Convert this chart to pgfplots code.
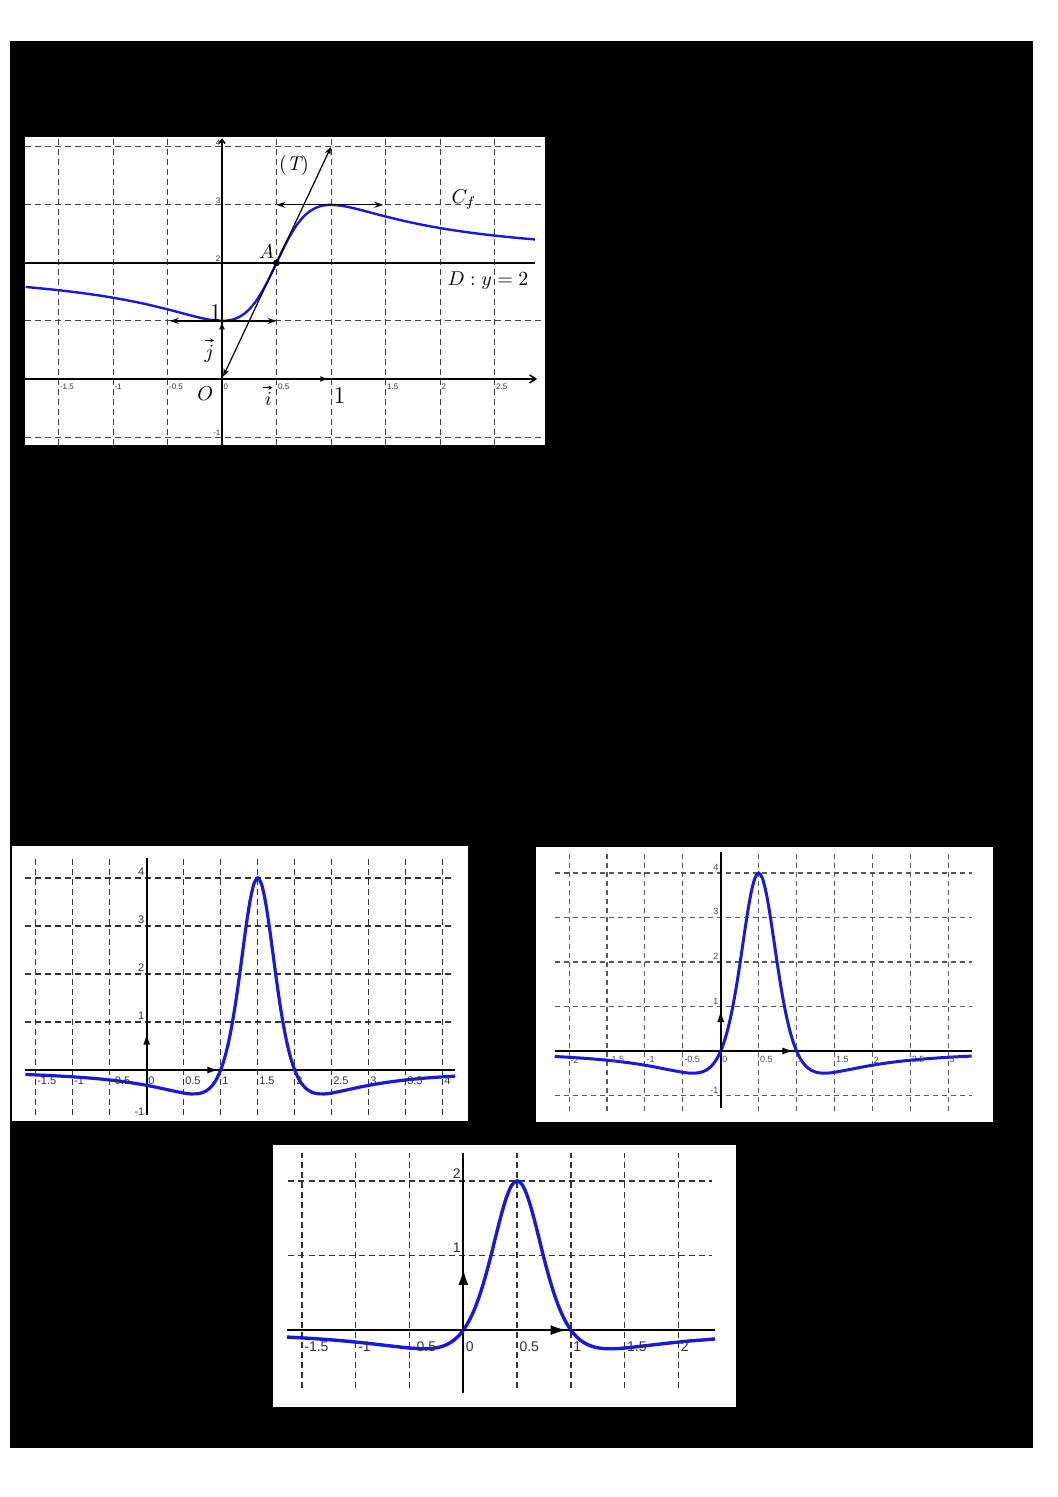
\documentclass[border=0pt]{standalone}
\usepackage{pgfplots}
\pgfplotsset{compat=1.18}
\usepackage{fontspec}
\setsansfont{Liberation Sans}
\usetikzlibrary{arrows.meta}
\definecolor{cblue}{RGB}{25,25,215}
\tikzset{
  grd/.style={black!75, line width=0.45pt, dash pattern=on 3pt off 2pt},
  grdb/.style={black!80, line width=0.7pt, dash pattern=on 3pt off 2pt},
  grdc/.style={black!65, line width=0.55pt, dash pattern=on 2.5pt off 2pt},
  ax/.style={black, line width=0.8pt},
  tk/.style={font=\sffamily\fontsize{4}{4.5}\selectfont, inner sep=0.6pt, text=black!80},
  lb/.style={font=\fontsize{10}{12}\selectfont, inner sep=0pt},
  vecarr/.style={line width=0.4pt, -{Stealth[length=2pt,width=2pt]}},
}
\pgfplotsset{panel/.style={anchor=south west, scale only axis, hide axis, clip=false}}

\begin{document}
\begin{tikzpicture}
\fill[white] (0pt,0pt) rectangle (529pt,748.5pt);
\fill[black] (5pt,24.65pt) rectangle (516.35pt,728.15pt);

%% ---------------- Plot 1 ----------------
\begin{axis}[panel, at={(12.5pt,526pt)}, width=260pt, height=154pt,
  xmin=-1.807, xmax=2.963, ymin=-1.138, ymax=4.17]
\fill[white] (rel axis cs:0,0) rectangle (rel axis cs:1,1);
\pgfplotsinvokeforeach{-1.5,-1,-0.5,0.5,1,1.5,2,2.5}{\draw[grd] (axis cs:#1,-1.138) -- (axis cs:#1,4.17);}
\pgfplotsinvokeforeach{4,3,1,-1}{\draw[grd] (axis cs:-1.807,#1) -- (axis cs:2.93,#1);}
\draw[ax, -{Straight Barb[length=3pt,width=4pt]}] (axis cs:-1.807,0) -- (axis cs:2.89,0);
\draw[ax, -{Straight Barb[length=2pt,width=3pt]}] (axis cs:0,-1.138) -- (axis cs:0,4.15);
\addplot[black, line width=1.1pt] coordinates {(-1.807,2) (2.87,2)};
\addplot[cblue, line width=1.2pt, smooth] coordinates {
(-1.8,1.58484) (-1.7,1.56778) (-1.5,1.52941) (-1.3,1.48424) (-1.1,1.43061)
(-0.9,1.36652) (-0.7,1.28994) (-0.5,1.2) (-0.4,1.15094) (-0.3,1.10112)
(-0.2,1.05405) (-0.1,1.01639) (0,1) (0.05,1.00553) (0.1,1.02439)
(0.15,1.06040) (0.2,1.11765) (0.25,1.2) (0.3,1.31034) (0.35,1.44954)
(0.4,1.61538) (0.45,1.80198) (0.5,2) (0.55,2.19802) (0.6,2.38462)
(0.65,2.55046) (0.7,2.68966) (0.75,2.8) (0.8,2.88235) (0.85,2.93960)
(0.9,2.97561) (0.95,2.99447) (1.0,3) (1.1,2.98361) (1.2,2.94595)
(1.3,2.89888) (1.4,2.84906) (1.5,2.8) (1.7,2.71006) (1.9,2.63348)
(2.1,2.56940) (2.3,2.51576) (2.5,2.47059) (2.7,2.43222) (2.87,2.40396)};
\addplot[black, line width=0.6pt, {Stealth[length=4pt,width=3pt]}-{Stealth[length=4pt,width=3pt]}] coordinates {(0.01,0.04) (1,4)};
\addplot[black, line width=0.6pt, {Stealth[length=4.5pt,width=3pt]}-{Stealth[length=4.5pt,width=3pt]}] coordinates {(0.5,3) (1.48,3)};
\addplot[black, line width=0.6pt, {Stealth[length=4.5pt,width=3pt]}-{Stealth[length=4.5pt,width=3pt]}] coordinates {(-0.48,1) (0.5,1)};
\addplot[only marks, mark=*, mark size=1.5pt, black] coordinates {(0.5,2)};
\draw[ax, -{Latex[length=4pt,width=3pt]}] (axis cs:0,0) -- (axis cs:0,0.99);
\draw[ax, -{Latex[length=4pt,width=3pt]}] (axis cs:0,0) -- (axis cs:0.975,0);
% labels
\node[lb] at (axis cs:-0.154,-0.25) {$O$};
\node[lb] at (axis cs:0.41,2.19) {$A$};
\node[lb] at (axis cs:0.66,3.67) {$(\mathbf{\mathit{T}})$};
\node[lb] at (axis cs:2.22,3.1) {$C_f$};
\node[lb] at (axis cs:2.44,1.69) {$D : y = 2$};
\node[lb] (jn) at (axis cs:-0.117,0.44) {$j$};
\draw[vecarr] ([xshift=-2pt,yshift=2pt]jn.north) -- ([xshift=2.5pt,yshift=2pt]jn.north);
\node[lb] (in) at (axis cs:0.426,-0.34) {$i$};
\draw[vecarr] ([xshift=-2.5pt,yshift=2pt]in.north) -- ([xshift=2pt,yshift=2pt]in.north);
\node[lb, font=\fontsize{12}{14}\selectfont] at (axis cs:1.077,-0.28) {1};
\node[lb, font=\fontsize{12}{14}\selectfont] at (axis cs:-0.06,1.14) {1};
\pgfplotsinvokeforeach{-1.5,-1,-0.5,0,0.5,1.5,2,2.5}{\node[tk, anchor=west] at (axis cs:#1,-0.13) {#1};}
\pgfplotsinvokeforeach{4,3,2,-1}{\node[tk, anchor=south east] at (axis cs:0,#1) {#1};}
\end{axis}

%% ---------------- Plot 2 ----------------
\begin{axis}[panel, at={(5.85pt,188.15pt)}, width=228pt, height=137.5pt,
  xmin=-1.824, xmax=4.338, ymin=-1.056, ymax=4.673]
\fill[white] (rel axis cs:0,0) rectangle (rel axis cs:1,1);
\pgfplotsinvokeforeach{-1.5,-1,-0.5,0.5,1,1.5,2,2.5,3,3.5,4}{\draw[grdb] (axis cs:#1,-0.94) -- (axis cs:#1,4.44);}
\pgfplotsinvokeforeach{1,2,3,4}{\draw[grdb] (axis cs:-1.64,#1) -- (axis cs:4.14,#1);}
\draw[ax, line width=0.9pt] (axis cs:-1.64,0) -- (axis cs:4.17,0);
\draw[ax, line width=0.9pt] (axis cs:0,-0.94) -- (axis cs:0,4.41);
\addplot[cblue, line width=1.6pt, smooth] coordinates {
(-1.64,-0.09402) (-1.5,-0.10226) (-1.3,-0.11597) (-1.1,-0.13248) (-0.9,-0.15255)
(-0.7,-0.17716) (-0.5,-0.20761) (-0.3,-0.24548) (-0.1,-0.29255) (0.1,-0.35012)
(0.3,-0.41665) (0.5,-0.48) (0.6,-0.49840) (0.7,-0.49236) (0.75,-0.47337)
(0.8,-0.43828) (0.85,-0.38142) (0.9,-0.29562) (0.95,-0.17199) (1.0,0)
(1.05,0.23198) (1.1,0.53540) (1.15,0.91888) (1.2,1.38408) (1.25,1.92)
(1.3,2.49703) (1.35,3.06373) (1.4,3.55030) (1.45,3.88200) (1.5,4)
(1.55,3.88200) (1.6,3.55030) (1.65,3.06373) (1.7,2.49703) (1.75,1.92)
(1.8,1.38408) (1.85,0.91888) (1.9,0.53540) (1.95,0.23198) (2.0,0)
(2.05,-0.17199) (2.1,-0.29562) (2.15,-0.38142) (2.2,-0.43828) (2.25,-0.47337)
(2.3,-0.49236) (2.4,-0.49840) (2.5,-0.48) (2.7,-0.41665) (2.9,-0.35012)
(3.1,-0.29255) (3.3,-0.24548) (3.5,-0.20761) (3.7,-0.17716) (3.9,-0.15255)
(4.17,-0.12634)};
\draw[ax, line width=0.9pt, -{Latex[length=5.5pt,width=3.5pt]}] (axis cs:0,0) -- (axis cs:0,0.76);
\draw[ax, line width=0.9pt, -{Latex[length=5.5pt,width=3.5pt]}] (axis cs:0,0) -- (axis cs:0.97,0);
\pgfplotsinvokeforeach{-1.5,-1,-0.5,0,0.5,1,1.5,2,2.5,3,3.5,4}{\node[tk, font=\sffamily\fontsize{5.5}{6}\selectfont, anchor=west] at (axis cs:#1,-0.22) {#1};}
\pgfplotsinvokeforeach{4,3,2,1,-1}{\node[tk, font=\sffamily\fontsize{5.5}{6}\selectfont, anchor=south east, inner sep=1pt] at (axis cs:0,#1) {#1};}
\end{axis}

%% ---------------- Plot 3 ----------------
\begin{axis}[panel, at={(268pt,187.5pt)}, width=228.5pt, height=137.5pt,
  xmin=-2.437, xmax=3.592, ymin=-1.596, ymax=4.584]
\fill[white] (rel axis cs:0,0) rectangle (rel axis cs:1,1);
\pgfplotsinvokeforeach{-2,-1.5,-1,-0.5,0.5,1,1.5,2,2.5,3}{\draw[grdc] (axis cs:#1,-1.36) -- (axis cs:#1,4.48);}
\pgfplotsinvokeforeach{4,3,2,1,-1}{\draw[grdc] (axis cs:-2.19,#1) -- (axis cs:3.31,#1);}
\draw[ax, line width=0.9pt] (axis cs:-2.19,0) -- (axis cs:3.31,0);
\draw[ax, line width=0.9pt] (axis cs:0,-1.29) -- (axis cs:0,4.48);
\addplot[cblue, line width=1.5pt, smooth] coordinates {
(-2.19,-0.12466) (-2.1,-0.13248) (-1.9,-0.15255) (-1.7,-0.17716) (-1.5,-0.20761)
(-1.3,-0.24548) (-1.1,-0.29255) (-0.9,-0.35012) (-0.7,-0.41665) (-0.5,-0.48)
(-0.4,-0.49840) (-0.3,-0.49236) (-0.25,-0.47337) (-0.2,-0.43828) (-0.15,-0.38142)
(-0.1,-0.29562) (-0.05,-0.17199) (0,0) (0.05,0.23198) (0.1,0.53540)
(0.15,0.91888) (0.2,1.38408) (0.25,1.92) (0.3,2.49703) (0.35,3.06373)
(0.4,3.55030) (0.45,3.88200) (0.5,4) (0.55,3.88200) (0.6,3.55030)
(0.65,3.06373) (0.7,2.49703) (0.75,1.92) (0.8,1.38408) (0.85,0.91888)
(0.9,0.53540) (0.95,0.23198) (1.0,0) (1.05,-0.17199) (1.1,-0.29562)
(1.15,-0.38142) (1.2,-0.43828) (1.25,-0.47337) (1.3,-0.49236) (1.4,-0.49840)
(1.5,-0.48) (1.7,-0.41665) (1.9,-0.35012) (2.1,-0.29255) (2.3,-0.24548)
(2.5,-0.20761) (2.7,-0.17716) (2.9,-0.15255) (3.1,-0.13248) (3.31,-0.11522)};
\draw[ax, line width=0.9pt, -{Latex[length=6pt,width=3.5pt]}] (axis cs:0,0) -- (axis cs:0,0.92);
\draw[ax, line width=0.9pt, -{Latex[length=6pt,width=3.5pt]}] (axis cs:0,0) -- (axis cs:0.97,0);
\pgfplotsinvokeforeach{-2,-1.5,-1,-0.5,0,0.5,1,1.5,2,2.5,3}{\node[tk, font=\sffamily\fontsize{4.5}{5}\selectfont, anchor=west, text=black!70] at (axis cs:#1,-0.2) {#1};}
\pgfplotsinvokeforeach{4,3,2,1,-1}{\node[tk, font=\sffamily\fontsize{4.5}{5}\selectfont, anchor=south east, inner sep=1pt, text=black!70] at (axis cs:0,#1) {#1};}
\end{axis}

%% ---------------- Plot 4 ----------------
\begin{axis}[panel, at={(136.5pt,45pt)}, width=231.5pt, height=131pt,
  xmin=-1.769, xmax=2.534, ymin=-1.03, ymax=2.48]
\fill[white] (rel axis cs:0,0) rectangle (rel axis cs:1,1);
\pgfplotsinvokeforeach{-1.5,-1,-0.5,0.5,1,1.5,2}{\draw[grdb] (axis cs:#1,-0.77) -- (axis cs:#1,2.37);}
\pgfplotsinvokeforeach{2,1}{\draw[grdb] (axis cs:-1.625,#1) -- (axis cs:2.31,#1);}
\draw[ax, line width=1pt] (axis cs:-1.64,0) -- (axis cs:2.34,0);
\draw[ax, line width=1pt] (axis cs:0,-0.84) -- (axis cs:0,2.37);
\addplot[cblue, line width=1.7pt, smooth] coordinates {
(-1.64,-0.09281) (-1.5,-0.10381) (-1.3,-0.12274) (-1.1,-0.14628) (-0.9,-0.17506)
(-0.7,-0.20833) (-0.5,-0.24) (-0.4,-0.24920) (-0.3,-0.24618) (-0.25,-0.23669)
(-0.2,-0.21914) (-0.15,-0.19071) (-0.1,-0.14781) (-0.05,-0.08600) (0,0)
(0.05,0.11599) (0.1,0.26770) (0.15,0.45944) (0.2,0.69204) (0.25,0.96)
(0.3,1.24852) (0.35,1.53187) (0.4,1.77515) (0.45,1.94100) (0.5,2)
(0.55,1.94100) (0.6,1.77515) (0.65,1.53187) (0.7,1.24852) (0.75,0.96)
(0.8,0.69204) (0.85,0.45944) (0.9,0.26770) (0.95,0.11599) (1.0,0)
(1.05,-0.08600) (1.1,-0.14781) (1.15,-0.19071) (1.2,-0.21914) (1.25,-0.23669)
(1.3,-0.24618) (1.4,-0.24920) (1.5,-0.24) (1.7,-0.20833) (1.9,-0.17506)
(2.1,-0.14628) (2.34,-0.11862)};
\draw[ax, line width=1pt, -{Latex[length=8pt,width=5pt]}] (axis cs:0,0) -- (axis cs:0,0.82);
\draw[ax, line width=1pt, -{Latex[length=8pt,width=5pt]}] (axis cs:0,0) -- (axis cs:0.96,0);
\pgfplotsinvokeforeach{-1.5,-1,-0.5,0,0.5,1,1.5,2}{\node[tk, font=\sffamily\fontsize{7}{8}\selectfont, anchor=west, inner sep=1pt] at (axis cs:#1,-0.22) {#1};}
\pgfplotsinvokeforeach{2,1}{\node[tk, font=\sffamily\fontsize{7}{8}\selectfont, anchor=south east, inner sep=1.2pt] at (axis cs:0,#1) {#1};}
\end{axis}
\end{tikzpicture}
\end{document}
